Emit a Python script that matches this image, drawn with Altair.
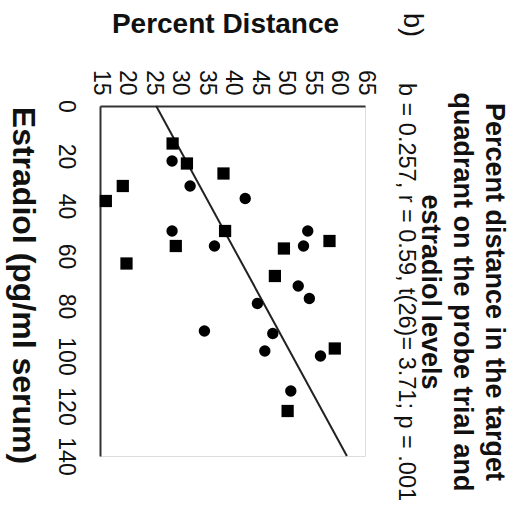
import altair as alt
import pandas as pd

# Estradiol (pg/ml serum) and percent distance in the target quadrant
square_estradiol = [15, 23, 27, 32, 38, 50, 56, 57, 54, 63, 68, 97, 122]
square_percent = [28.7, 31.4, 38.3, 19.3, 16.1, 38.6, 29.3, 49.7, 58.3, 20.0, 48.0, 59.3, 50.4]
circle_estradiol = [22, 32, 37, 50, 56, 50, 56, 72, 77, 79, 91, 90, 98, 100, 114]
circle_percent = [28.6, 32.0, 42.4, 28.6, 36.6, 54.2, 53.4, 52.4, 54.5, 44.7, 47.6, 34.7, 46.1, 56.6, 51.0]

# Regression line: slope b = 0.257
slope = 0.257
intercept = 25.6
line_estradiol = [0, 140]

percent_ticks = [15, 20, 25, 30, 35, 40, 45, 50, 55, 60, 65]
estradiol_ticks = [0, 20, 40, 60, 80, 100, 120, 140]

stats_text = "b = 0.257, r = 0.59, t(26)= 3.71; p = .001"

FONT = "Liberation Sans"
INK = "#111111"

squares = pd.DataFrame({"estradiol": square_estradiol, "percent": square_percent})
circles = pd.DataFrame({"estradiol": circle_estradiol, "percent": circle_percent})
fit = pd.DataFrame({"estradiol": line_estradiol})

x_enc = alt.X(
    "percent:Q",
    scale=alt.Scale(domain=[15, 65], nice=False, zero=False),
    axis=alt.Axis(
        orient="top",
        values=percent_ticks,
        title="Percent Distance",
        titleFont=FONT,
        titleFontSize=28,
        titleFontWeight="bold",
        titleColor=INK,
        titleAngle=0,
        titleX=125,
        titleY=-82,
        titleAlign="center",
        titleBaseline="middle",
        labelAngle=90,
        labelAlign="right",
        labelBaseline="middle",
        labelPadding=11,
        labelFont=FONT,
        labelFontSize=23,
        labelColor=INK,
        labelOverlap=False,
        labelSeparation=0,
        ticks=False,
        grid=False,
        domainColor="#333333",
        domainWidth=2,
    ),
)

y_enc = alt.Y(
    "estradiol:Q",
    scale=alt.Scale(domain=[0, 140], nice=False, zero=False, reverse=True),
    axis=alt.Axis(
        orient="left",
        values=estradiol_ticks,
        title="Estradiol (pg/ml serum)",
        titleFont=FONT,
        titleFontSize=32,
        titleFontWeight="bold",
        titleColor=INK,
        titleAngle=90,
        titleX=-78,
        titleY=179,
        titleAlign="center",
        titleBaseline="middle",
        labelAngle=90,
        labelAlign="center",
        labelBaseline="top",
        labelPadding=24,
        labelFont=FONT,
        labelFontSize=23,
        labelColor=INK,
        labelOverlap=False,
        ticks=False,
        grid=False,
        domainColor="#333333",
        domainWidth=2,
    ),
)

line = alt.Chart(fit).transform_calculate(
    percent=f"{intercept} + {slope} * datum.estradiol"
).mark_line(color="#222222", strokeWidth=2).encode(x=x_enc, y=y_enc)

square_pts = alt.Chart(squares).mark_point(
    shape="square", filled=True, color="black", size=150, opacity=1
).encode(x=x_enc, y=y_enc)

circle_pts = alt.Chart(circles).mark_point(
    shape="circle", filled=True, color="black", size=130, opacity=1
).encode(x=x_enc, y=y_enc)

# Panel letter and regression statistics, written along the right edge
panel_tag = alt.Chart(pd.DataFrame({"tag": ["b)"]})).mark_text(
    font=FONT, fontSize=27, color=INK, angle=90, align="center", baseline="middle"
).encode(text="tag:N", x=alt.value(312), y=alt.value(-81))

stats = alt.Chart(pd.DataFrame({"stats": [stats_text]})).mark_text(
    font=FONT, fontSize=23.5, color=INK, angle=90, align="center", baseline="middle"
).encode(text="stats:N", x=alt.value(306), y=alt.value(186))

chart = alt.layer(line, square_pts, circle_pts, panel_tag, stats).properties(
    width=265,
    height=350,
    autosize="none",
    padding={"left": 100, "top": 106, "right": 152, "bottom": 60},
    title=alt.TitleParams(
        text=["Percent distance in the target", "quadrant on the probe trial and", "estradiol levels"],
        orient="right",
        anchor="middle",
        angle=90,
        font=FONT,
        fontSize=27,
        fontWeight="bold",
        color=INK,
        lineHeight=32,
        offset=-10,
        dx=11,
    ),
).configure_view(stroke=None).configure_axis(labelOverlap=False).configure(background="white")

chart.save("out.html", embed_options={"renderer": "svg", "actions": False})
